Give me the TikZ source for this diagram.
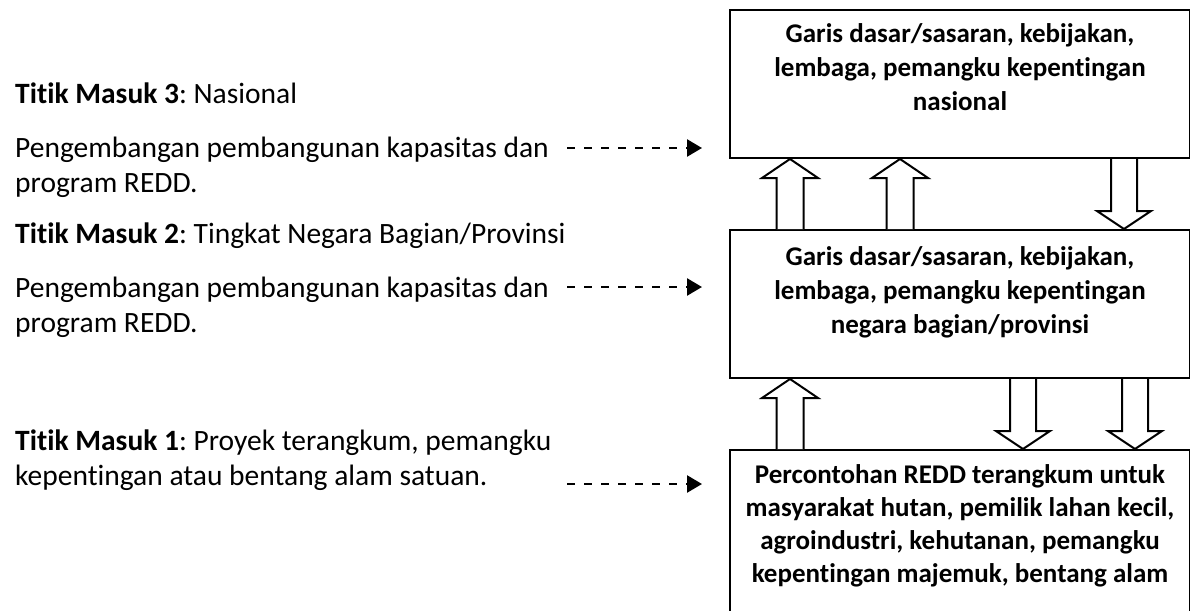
\documentclass[tikz,border=0pt]{standalone}
\usepackage{fontspec}
\setmainfont{Carlito}[Ligatures=NoCommon]
\frenchspacing
\usetikzlibrary{arrows.meta,calc}
\tikzset{
  box/.style={draw,line width=2pt,rectangle,inner sep=0pt,minimum width=460pt},
  boxtext/.style={font=\fontsize{27}{34}\selectfont\bfseries,align=center,inner sep=0pt,anchor=base},
  lefttext/.style={font=\fontsize{29.5}{35}\selectfont,align=left,inner sep=0pt,anchor=base west},
  dasharrow/.style={line width=2.5pt,dash pattern=on 8pt off 9pt,-{Triangle[length=15pt,width=17pt]}},
  blk/.style={line width=2pt,fill=white,line join=miter}
}
\newcommand\blockup[3]{% x, lower node, upper node
  \draw[blk] let \p1=(#2.north), \p2=(#3.south) in
    ({(#1-13.5)*1pt},\y1) -- ({(#1-13.5)*1pt},{\y2-19pt}) -- ({(#1-28)*1pt},{\y2-19pt})
    -- ({#1*1pt},\y2) -- ({(#1+28)*1pt},{\y2-19pt}) -- ({(#1+13.5)*1pt},{\y2-19pt})
    -- ({(#1+13.5)*1pt},\y1);}
\newcommand\blockdown[3]{% x, upper node, lower node
  \draw[blk] let \p1=(#2.south), \p2=(#3.north) in
    ({(#1-13)*1pt},\y1) -- ({(#1-13)*1pt},{\y2+18pt}) -- ({(#1-27)*1pt},{\y2+18pt})
    -- ({#1*1pt},\y2) -- ({(#1+27)*1pt},{\y2+18pt}) -- ({(#1+13)*1pt},{\y2+18pt})
    -- ({(#1+13)*1pt},\y1);}
\begin{document}
\begin{tikzpicture}[x=1pt,y=1pt]
\useasboundingbox (0,0) rectangle (1190,-610);
\clip (0,0) rectangle (1190,-610);
% boxes
\node[box,minimum height=148pt,anchor=north west] (box1) at (729,-9) {};
\node[box,minimum height=148pt,anchor=north west] (box2) at (729,-229) {};
\node[box,minimum height=200pt,anchor=north west] (box3) at (729,-449) {};
% box texts (anchor = baseline of last line)
\node[boxtext] (t1) at ($(box1.north)+(0,-101)$) {Garis dasar/sasaran, kebijakan,\\lembaga, pemangku kepentingan\\nasional};
\node[boxtext] (t2) at ($(box2.north)+(0,-104)$) {Garis dasar/sasaran, kebijakan,\\lembaga, pemangku kepentingan\\negara bagian/provinsi};
\node[boxtext,font=\fontsize{27}{33}\selectfont\bfseries] (t3) at ($(box3.north)+(0,-133)$) {Percontohan REDD terangkum untuk\\masyarakat hutan, pemilik lahan kecil,\\agroindustri, kehutanan, pemangku\\kepentingan majemuk, bentang alam};
% block arrows
\blockup{790}{box2}{box1}
\blockup{900}{box2}{box1}
\blockdown{1124}{box1}{box2}
\blockup{790}{box3}{box2}
\blockdown{1023}{box2}{box3}
\blockdown{1135}{box2}{box3}
% left texts (anchor = baseline of last line)
\node[lefttext] (l1) at (15,-103) {\textbf{Titik Masuk 3}: Nasional};
\node[lefttext] (l2) at (15,-192) {Pengembangan pembangunan kapasitas dan\\program REDD.};
\node[lefttext] (l3) at (15,-243) {\textbf{Titik Masuk 2}: Tingkat Negara Bagian/Provinsi};
\node[lefttext] (l4) at (15,-332) {Pengembangan pembangunan kapasitas dan\\program REDD.};
\node[lefttext] (l5) at (15,-485) {\textbf{Titik Masuk 1}: Proyek terangkum, pemangku\\kepentingan atau bentang alam satuan.};
% dashed arrows
\coordinate (d1) at (567,-148);
\coordinate (d2) at (567,-287);
\coordinate (d3) at (567,-484);
\draw[dasharrow,shorten >=27pt] (d1) -- (d1 -| box1.west);
\draw[dasharrow,shorten >=27pt] (d2) -- (d2 -| box2.west);
\draw[dasharrow,shorten >=27pt] (d3) -- (d3 -| box3.west);
\end{tikzpicture}
\end{document}
